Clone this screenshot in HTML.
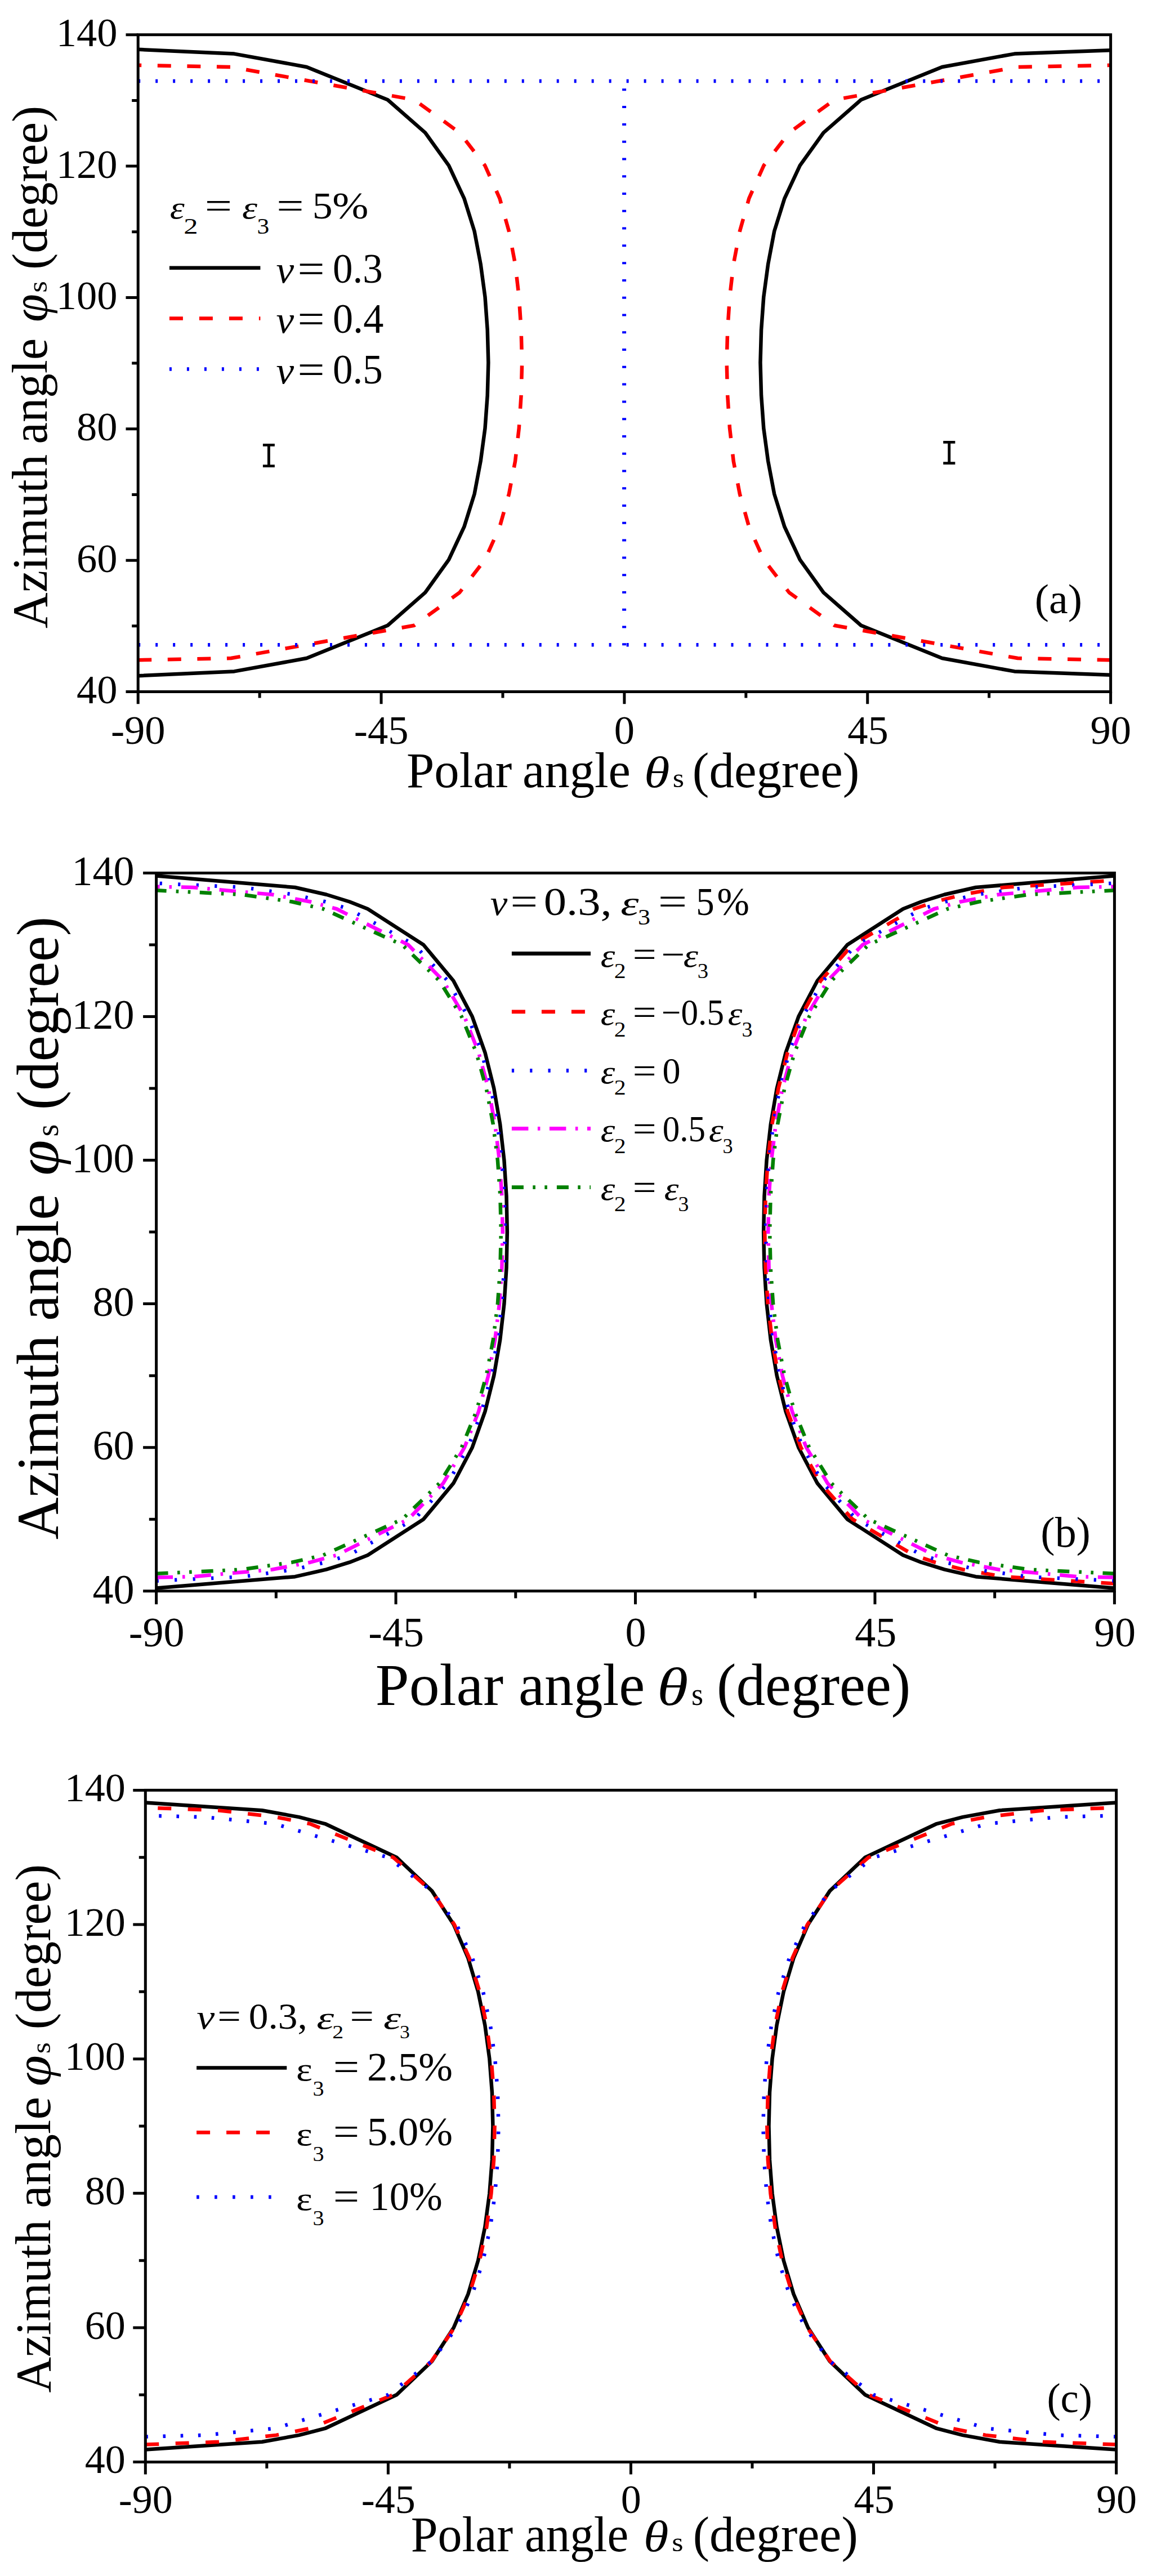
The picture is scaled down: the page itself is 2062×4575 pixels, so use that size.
<!DOCTYPE html><html><head><meta charset="utf-8"><title>figure</title><style>html,body{margin:0;padding:0;background:#fff}svg{display:block}text{font-family:"Liberation Serif",serif;fill:#000;font-kerning:none}.i{font-style:italic}.m{font-family:"Liberation Mono",monospace}</style></head><body>
<svg width="2062" height="4575" viewBox="0 0 2062 4575"><rect width="2062" height="4575" fill="#fff"/>
<g id="pa">
<path d="M245.2 1200.21L416.02 1192.4L544.62 1169.06L688.57 1110.72L755.17 1052.38L797.01 994.04L824.36 935.7L842.59 877.36L853.63 819.02L861.5 760.68L865.72 702.34L867.35 644L865.72 585.66L861.5 527.32L853.63 468.98L842.59 410.64L824.36 352.3L797.01 293.96L755.17 235.62L688.57 177.28L544.62 118.94L416.02 95.6L245.2 87.79" fill="none" stroke="#000" stroke-width="6.5" stroke-linejoin="round"/>
<path d="M1972.6 1198.7L1801.78 1192.4L1673.18 1169.06L1529.23 1110.72L1462.63 1052.38L1420.79 994.04L1393.44 935.7L1375.21 877.36L1364.17 819.02L1356.3 760.68L1352.08 702.34L1350.45 644L1352.08 585.66L1356.3 527.32L1364.17 468.98L1375.21 410.64L1393.44 352.3L1420.79 293.96L1462.63 235.62L1529.23 177.28L1673.18 118.94L1801.78 95.6L1972.6 89.3" fill="none" stroke="#000" stroke-width="6.5" stroke-linejoin="round"/>
<path d="M245.2 1172.21L410.26 1169.06L735.97 1110.72L816.2 1052.38L861.31 994.04L887.5 935.7L903.92 877.36L915.05 819.02L921.76 760.68L925.6 702.34L927.14 644L925.6 585.66L921.76 527.32L915.05 468.98L903.92 410.64L887.5 352.3L861.31 293.96L816.2 235.62L735.97 177.28L410.26 118.94L245.2 115.79" fill="none" stroke="#ff0000" stroke-width="6.5" stroke-linejoin="round" stroke-dasharray="24.000 28.586"/>
<path d="M1972.6 1172.21L1807.54 1169.06L1481.83 1110.72L1401.6 1052.38L1356.49 994.04L1330.3 935.7L1313.88 877.36L1302.75 819.02L1296.03 760.68L1292.2 702.34L1290.66 644L1292.2 585.66L1296.03 527.32L1302.75 468.98L1313.88 410.64L1330.3 352.3L1356.49 293.96L1401.6 235.62L1481.83 177.28L1807.54 118.94L1972.6 115.79" fill="none" stroke="#ff0000" stroke-width="6.5" stroke-linejoin="round" stroke-dasharray="24.000 28.586"/>
<path d="M245.2 143.9H1972.6M245.2 1145.3H1972.6" stroke="#0000ff" stroke-width="6.5" stroke-dasharray="4 26.98" fill="none"/>
<path d="M1108.6 1146.3V143.9" stroke="#0000ff" stroke-width="7" stroke-dasharray="4 26.78" fill="none"/>
<rect x="245.2" y="61.7" width="1727.4" height="1166.8" fill="none" stroke="#000" stroke-width="5"/>
<path d="M245.2 1228.5h-21.7M245.2 1111.82h-11M245.2 995.14h-21.7M245.2 878.46h-11M245.2 761.78h-21.7M245.2 645.1h-11M245.2 528.42h-21.7M245.2 411.74h-11M245.2 295.06h-21.7M245.2 178.38h-11M245.2 61.7h-21.7M245.2 1228.5v21.7M461.12 1228.5v11M677.05 1228.5v21.7M892.97 1228.5v11M1108.9 1228.5v21.7M1324.83 1228.5v11M1540.75 1228.5v21.7M1756.67 1228.5v11M1972.6 1228.5v21.7" fill="none" stroke="#000" stroke-width="5"/>
<text transform="translate(135.96 1249.1)" font-size="72.5">40</text>
<text transform="translate(135.96 1015.74)" font-size="72.5">60</text>
<text transform="translate(135.96 782.38)" font-size="72.5">80</text>
<text transform="translate(99.71 549.02)" font-size="72.5">100</text>
<text transform="translate(99.71 315.66)" font-size="72.5">120</text>
<text transform="translate(99.71 82.3)" font-size="72.5">140</text>
<text transform="translate(196.91 1321.4)" font-size="72.5">-90</text>
<text transform="translate(628.8 1321.4)" font-size="72.5">-45</text>
<text transform="translate(1090.77 1321.4)" font-size="72.5">0</text>
<text transform="translate(1505.21 1321.4)" font-size="72.5">45</text>
<text transform="translate(1936.56 1321.4)" font-size="72.5">90</text>
<text transform="translate(82.6 1116.06) rotate(-90) scale(1.0031 1)" font-size="88">Azimuth</text>
<text transform="translate(82.6 788.55) rotate(-90) scale(0.9858 1)" font-size="88">angle</text>
<text transform="translate(82.6 571.89) rotate(-90) scale(1.0262 1)" font-size="88" class="i">φ</text>
<text transform="translate(82.6 519.77) rotate(-90) scale(1.1017 1)" font-size="48">s</text>
<text transform="translate(82.6 478.74) rotate(-90) scale(0.9928 1)" font-size="88">(degree)</text>
<text transform="translate(722.05 1398.4) scale(1.0074 1)" font-size="88">Polar</text>
<text transform="translate(928.08 1398.4) scale(1.0069 1)" font-size="88">angle</text>
<text transform="translate(1143.88 1398.4) scale(1.1694 1)" font-size="79.2" class="i">θ</text>
<text transform="translate(1194.76 1398.4) scale(1.0884 1)" font-size="48">s</text>
<text transform="translate(1229.79 1398.4) scale(1.0121 1)" font-size="88">(degree)</text>
<text transform="translate(301.68 388) scale(1.1377 1)" font-size="57.95" class="i">ε</text>
<text transform="translate(326.37 415) scale(1.2660 1)" font-size="40">2</text>
<text transform="translate(363.63 388) scale(1.2798 1)" font-size="67">=</text>
<text transform="translate(429.93 388) scale(1.1841 1)" font-size="57.95" class="i">ε</text>
<text transform="translate(456.51 415.3) scale(1.0894 1)" font-size="40">3</text>
<text transform="translate(491.33 388) scale(1.2798 1)" font-size="67">=</text>
<text transform="translate(554.83 388) scale(1.0708 1)" font-size="67">5</text>
<text transform="translate(590.17 388) scale(1.1497 1)" font-size="67">%</text>
<path d="M300.9 475.8H462.4" stroke="#000" stroke-width="6.5"/>
<text transform="translate(490.42 501.6) scale(1.0483 1)" font-size="68.08" class="i">ν</text>
<text transform="translate(528.46 501.6) scale(1.1500 1)" font-size="74">=</text>
<text transform="translate(591 501.6) scale(0.9598 1)" font-size="74">0.3</text>
<path d="M300.9 565.6H462.4" stroke="#ff0000" stroke-width="6.5" stroke-dasharray="24 29"/>
<text transform="translate(490.42 591.1) scale(1.0483 1)" font-size="68.08" class="i">ν</text>
<text transform="translate(528.46 591.1) scale(1.1500 1)" font-size="74">=</text>
<text transform="translate(590.95 591.1) scale(0.9771 1)" font-size="74">0.4</text>
<path d="M300.9 655.4H462.4" stroke="#0000ff" stroke-width="6.5" stroke-dasharray="4 27"/>
<text transform="translate(490.42 680.6) scale(1.0483 1)" font-size="68.08" class="i">ν</text>
<text transform="translate(528.46 680.6) scale(1.1500 1)" font-size="74">=</text>
<text transform="translate(591 680.6) scale(0.9598 1)" font-size="74">0.5</text>
<text transform="translate(1837.87 1088.6) scale(1.0111 1)" font-size="75">(a)</text>
<text transform="translate(461.85 830) scale(0.8191 1)" font-size="63.8" class="m">I</text>
<text transform="translate(1670 824.6) scale(0.8269 1)" font-size="63.8" class="m">I</text>
</g>
<g id="pb">
<path d="M277.6 2820.6L523.89 2800.2L579.7 2787.44L620.78 2774.69L653.12 2761.94L752.14 2698.18L805.24 2634.42L838.75 2570.66L861.45 2506.9L877.26 2443.14L888.2 2379.38L895.4 2315.62L899.5 2251.86L900.84 2188.1L899.5 2124.34L895.4 2060.58L888.2 1996.82L877.26 1933.06L861.45 1869.3L838.75 1805.54L805.24 1741.78L752.14 1678.02L653.12 1614.26L620.78 1601.51L579.7 1588.76L523.89 1576L277.6 1555.6" fill="none" stroke="#000" stroke-width="6.5" stroke-linejoin="round"/>
<path d="M1979.4 2820.6L1733.11 2800.2L1677.3 2787.44L1636.22 2774.69L1603.88 2761.94L1504.86 2698.18L1451.76 2634.42L1418.25 2570.66L1395.55 2506.9L1379.74 2443.14L1368.8 2379.38L1361.6 2315.62L1357.5 2251.86L1356.16 2188.1L1357.5 2124.34L1361.6 2060.58L1368.8 1996.82L1379.74 1933.06L1395.55 1869.3L1418.25 1805.54L1451.76 1741.78L1504.86 1678.02L1603.88 1614.26L1636.22 1601.51L1677.3 1588.76L1733.11 1576L1979.4 1555.6" fill="none" stroke="#000" stroke-width="6.5" stroke-linejoin="round"/>
<path d="M1979.4 2812.57L1782.41 2800.2L1709.99 2787.44L1660.74 2774.69L1623.41 2761.94L1514.08 2698.18L1457.56 2634.42L1422.44 2570.66L1398.84 2506.9L1382.5 2443.14L1371.23 2379.38L1363.82 2315.62L1359.61 2251.86L1358.24 2188.1L1359.61 2124.34L1363.82 2060.58L1371.23 1996.82L1382.5 1933.06L1398.84 1869.3L1422.44 1805.54L1457.56 1741.78L1514.08 1678.02L1623.41 1614.26L1660.74 1601.51L1709.99 1588.76L1782.41 1576L1979.4 1563.63" fill="none" stroke="#ff0000" stroke-width="6.5" stroke-linejoin="round" stroke-dasharray="24.000 29.406"/>
<path d="M277.6 2807.59L432.22 2800.2L522.11 2787.44L578.18 2774.69L619.36 2761.94L736.09 2698.18L794.96 2634.42L831.2 2570.66L855.41 2506.9L872.13 2443.14L883.63 2379.38L891.18 2315.62L895.47 2251.86L896.87 2188.1L895.47 2124.34L891.18 2060.58L883.63 1996.82L872.13 1933.06L855.41 1869.3L831.2 1805.54L794.96 1741.78L736.09 1678.02L619.36 1614.26L578.18 1601.51L522.11 1588.76L432.22 1576L277.6 1568.61" fill="none" stroke="#0000ff" stroke-width="6.5" stroke-linejoin="round" stroke-dasharray="4.200 28.339"/>
<path d="M1979.4 2807.59L1824.78 2800.2L1734.89 2787.44L1678.82 2774.69L1637.64 2761.94L1520.91 2698.18L1462.04 2634.42L1425.8 2570.66L1401.59 2506.9L1384.87 2443.14L1373.37 2379.38L1365.82 2315.62L1361.53 2251.86L1360.13 2188.1L1361.53 2124.34L1365.82 2060.58L1373.37 1996.82L1384.87 1933.06L1401.59 1869.3L1425.8 1805.54L1462.04 1741.78L1520.91 1678.02L1637.64 1614.26L1678.82 1601.51L1734.89 1588.76L1824.78 1576L1979.4 1568.61" fill="none" stroke="#0000ff" stroke-width="6.5" stroke-linejoin="round" stroke-dasharray="4.200 28.339"/>
<path d="M277.6 2801.47L342.51 2800.2L483.57 2787.44L551.07 2774.69L597.99 2761.94L725.04 2698.18L787.14 2634.42L824.94 2570.66L850.05 2506.9L867.32 2443.14L879.18 2379.38L886.95 2315.62L891.37 2251.86L892.8 2188.1L891.37 2124.34L886.95 2060.58L879.18 1996.82L867.32 1933.06L850.05 1869.3L824.94 1805.54L787.14 1741.78L725.04 1678.02L597.99 1614.26L551.07 1601.51L483.57 1588.76L342.51 1576L277.6 1574.73" fill="none" stroke="#ff00ff" stroke-width="6.5" stroke-linejoin="round" stroke-dasharray="29.500 16.917 4.500 16.917"/>
<path d="M1979.4 2801.47L1914.49 2800.2L1773.43 2787.44L1705.93 2774.69L1659.01 2761.94L1531.96 2698.18L1469.86 2634.42L1432.06 2570.66L1406.95 2506.9L1389.68 2443.14L1377.82 2379.38L1370.05 2315.62L1365.63 2251.86L1364.2 2188.1L1365.63 2124.34L1370.05 2060.58L1377.82 1996.82L1389.68 1933.06L1406.95 1869.3L1432.06 1805.54L1469.86 1741.78L1531.96 1678.02L1659.01 1614.26L1705.93 1601.51L1773.43 1588.76L1914.49 1576L1979.4 1574.73" fill="none" stroke="#ff00ff" stroke-width="6.5" stroke-linejoin="round" stroke-dasharray="29.500 16.917 4.500 16.917"/>
<path d="M277.6 2794.84L429.82 2787.44L518.56 2774.69L574.05 2761.94L714.49 2698.18L780.32 2634.42L819.81 2570.66L845.84 2506.9L863.67 2443.14L875.88 2379.38L883.87 2315.62L888.4 2251.86L889.87 2188.1L888.4 2124.34L883.87 2060.58L875.88 1996.82L863.67 1933.06L845.84 1869.3L819.81 1805.54L780.32 1741.78L714.49 1678.02L574.05 1614.26L518.56 1601.51L429.82 1588.76L277.6 1581.36" fill="none" stroke="#008000" stroke-width="6.5" stroke-linejoin="round" stroke-dasharray="21.000 16.475 4.600 16.475 4.600 17.075"/>
<path d="M1979.4 2794.84L1827.18 2787.44L1738.44 2774.69L1682.95 2761.94L1542.51 2698.18L1476.68 2634.42L1437.19 2570.66L1411.16 2506.9L1393.33 2443.14L1381.12 2379.38L1373.13 2315.62L1368.6 2251.86L1367.13 2188.1L1368.6 2124.34L1373.13 2060.58L1381.12 1996.82L1393.33 1933.06L1411.16 1869.3L1437.19 1805.54L1476.68 1741.78L1542.51 1678.02L1682.95 1614.26L1738.44 1601.51L1827.18 1588.76L1979.4 1581.36" fill="none" stroke="#008000" stroke-width="6.5" stroke-linejoin="round" stroke-dasharray="21.000 16.475 4.600 16.475 4.600 17.075"/>
<rect x="277.6" y="1550.5" width="1701.8" height="1275.2" fill="none" stroke="#000" stroke-width="5"/>
<path d="M277.6 2825.7h-23.5M277.6 2698.18h-12.8M277.6 2570.66h-23.5M277.6 2443.14h-12.8M277.6 2315.62h-23.5M277.6 2188.1h-12.8M277.6 2060.58h-23.5M277.6 1933.06h-12.8M277.6 1805.54h-23.5M277.6 1678.02h-12.8M277.6 1550.5h-23.5M277.6 2825.7v23.5M490.33 2825.7v12.8M703.05 2825.7v23.5M915.78 2825.7v12.8M1128.5 2825.7v23.5M1341.23 2825.7v12.8M1553.95 2825.7v23.5M1766.68 2825.7v12.8M1979.4 2825.7v23.5" fill="none" stroke="#000" stroke-width="5"/>
<text transform="translate(164.52 2847.5)" font-size="74">40</text>
<text transform="translate(164.52 2592.46)" font-size="74">60</text>
<text transform="translate(164.52 2337.42)" font-size="74">80</text>
<text transform="translate(127.52 2082.38)" font-size="74">100</text>
<text transform="translate(127.52 1827.34)" font-size="74">120</text>
<text transform="translate(127.52 1572.3)" font-size="74">140</text>
<text transform="translate(228.81 2924)" font-size="74">-90</text>
<text transform="translate(654.3 2924)" font-size="74">-45</text>
<text transform="translate(1110.5 2924)" font-size="74">0</text>
<text transform="translate(1518.17 2924)" font-size="74">45</text>
<text transform="translate(1943.12 2924)" font-size="74">90</text>
<text transform="translate(102.8 2734.31) rotate(-90) scale(0.9881 1)" font-size="105">Azimuth</text>
<text transform="translate(102.8 2345.96) rotate(-90) scale(0.9916 1)" font-size="105">angle</text>
<text transform="translate(102.8 2088.03) rotate(-90) scale(1.0962 1)" font-size="105" class="i">φ</text>
<text transform="translate(102.8 2018.59) rotate(-90) scale(0.9784 1)" font-size="57">s</text>
<text transform="translate(102.8 1971.13) rotate(-90) scale(0.9816 1)" font-size="105">(degree)</text>
<text transform="translate(666.8 3028) scale(1.0262 1)" font-size="105">Polar</text>
<text transform="translate(920.96 3028) scale(0.9866 1)" font-size="105">angle</text>
<text transform="translate(1166.9 3028) scale(1.1922 1)" font-size="94.5" class="i">θ</text>
<text transform="translate(1227.98 3028) scale(0.9503 1)" font-size="57">s</text>
<text transform="translate(1272.96 3028) scale(0.9848 1)" font-size="105">(degree)</text>
<text transform="translate(870.86 1625) scale(1.0685 1)" font-size="64.4" class="i">ν</text>
<text transform="translate(906.41 1625) scale(1.2311 1)" font-size="70">=</text>
<text transform="translate(965.83 1625) scale(1.1509 1)" font-size="70">0.3,</text>
<text transform="translate(1102.24 1625) scale(1.3512 1)" font-size="60.55" class="i">ε</text>
<text transform="translate(1133.09 1641.5) scale(1.1015 1)" font-size="40">3</text>
<text transform="translate(1168.64 1625) scale(1.3078 1)" font-size="70">=</text>
<text transform="translate(1236.14 1625) scale(0.9256 1)" font-size="70">5</text>
<text transform="translate(1273.44 1625) scale(0.9846 1)" font-size="70">%</text>
<path d="M908.9 1693.5H1049" stroke="#000" stroke-width="6.8"/>
<text transform="translate(1066.71 1716.5) scale(1.1026 1)" font-size="58.82" class="i">ε</text>
<text transform="translate(1090.76 1737) scale(1.1028 1)" font-size="38">2</text>
<text transform="translate(1123.8 1716.5) scale(1.1439 1)" font-size="65">=</text>
<text transform="translate(1174.39 1716.5) scale(1.1472 1)" font-size="65">−</text>
<text transform="translate(1213.77 1716.5) scale(1.1301 1)" font-size="58.82" class="i">ε</text>
<text transform="translate(1238.65 1737) scale(1.0193 1)" font-size="38">3</text>
<path d="M908.9 1796.8H1049" stroke="#ff0000" stroke-width="6.8" stroke-dasharray="24 29"/>
<text transform="translate(1066.71 1820) scale(1.1026 1)" font-size="58.82" class="i">ε</text>
<text transform="translate(1090.76 1840.5) scale(1.1028 1)" font-size="38">2</text>
<text transform="translate(1123.8 1820) scale(1.1439 1)" font-size="65">=</text>
<text transform="translate(1175.05 1820) scale(0.9409 1)" font-size="65">−0.5</text>
<text transform="translate(1292.81 1820) scale(1.1026 1)" font-size="58.82" class="i">ε</text>
<text transform="translate(1317.38 1840.5)" font-size="38">3</text>
<path d="M908.9 1901.3H1049" stroke="#0000ff" stroke-width="6.8" stroke-dasharray="4.2 28.1"/>
<text transform="translate(1066.71 1923.5) scale(1.1026 1)" font-size="58.82" class="i">ε</text>
<text transform="translate(1090.76 1944) scale(1.1028 1)" font-size="38">2</text>
<text transform="translate(1123.8 1923.5) scale(1.1439 1)" font-size="65">=</text>
<text transform="translate(1176.56 1923.5) scale(0.9873 1)" font-size="65">0</text>
<path d="M908.9 2004.4H1049" stroke="#ff00ff" stroke-width="6.8" stroke-dasharray="29.5 16.5 4.5 16.5"/>
<text transform="translate(1066.71 2027) scale(1.1026 1)" font-size="58.82" class="i">ε</text>
<text transform="translate(1090.76 2047.5) scale(1.1028 1)" font-size="38">2</text>
<text transform="translate(1123.8 2027) scale(1.1439 1)" font-size="65">=</text>
<text transform="translate(1176.68 2027) scale(0.9379 1)" font-size="65">0.5</text>
<text transform="translate(1259 2027) scale(1.1072 1)" font-size="58.82" class="i">ε</text>
<text transform="translate(1283.46 2047.5) scale(0.9556 1)" font-size="38">3</text>
<path d="M908.9 2108.6H1049" stroke="#008000" stroke-width="6.8" stroke-dasharray="21 16.4 4.6 16.4 4.6 17"/>
<text transform="translate(1066.71 2130.5) scale(1.1026 1)" font-size="58.82" class="i">ε</text>
<text transform="translate(1090.76 2151) scale(1.1028 1)" font-size="38">2</text>
<text transform="translate(1123.8 2130.5) scale(1.1439 1)" font-size="65">=</text>
<text transform="translate(1179.7 2130.5) scale(1.1072 1)" font-size="58.82" class="i">ε</text>
<text transform="translate(1204.39 2151) scale(0.9938 1)" font-size="38">3</text>
<text transform="translate(1848.37 2747.2) scale(1.0049 1)" font-size="75.5">(b)</text>
</g>
<g id="pc">
<path d="M258.3 4350.53L465.49 4336.8L531.11 4324.87L577.31 4312.94L704.23 4253.28L767.16 4193.62L805.73 4133.96L831.44 4074.3L849.18 4014.64L861.38 3954.98L869.38 3895.32L873.93 3835.66L875.41 3776L873.93 3716.34L869.38 3656.68L861.38 3597.02L849.18 3537.36L831.44 3477.7L805.73 3418.04L767.16 3358.38L704.23 3298.72L577.31 3239.06L531.11 3227.13L465.49 3215.2L258.3 3201.47" fill="none" stroke="#000" stroke-width="6.5" stroke-linejoin="round"/>
<path d="M1982.6 4350.53L1775.41 4336.8L1709.79 4324.87L1663.59 4312.94L1536.67 4253.28L1473.74 4193.62L1435.17 4133.96L1409.46 4074.3L1391.72 4014.64L1379.52 3954.98L1371.52 3895.32L1366.97 3835.66L1365.49 3776L1366.97 3716.34L1371.52 3656.68L1379.52 3597.02L1391.72 3537.36L1409.46 3477.7L1435.17 3418.04L1473.74 3358.38L1536.67 3298.72L1663.59 3239.06L1709.79 3227.13L1775.41 3215.2L1982.6 3201.47" fill="none" stroke="#000" stroke-width="6.5" stroke-linejoin="round"/>
<path d="M258.3 4341.58L387.75 4336.8L490.32 4324.87L550.53 4312.94L698.34 4253.28L766.38 4193.62L806.95 4133.96L833.61 4074.3L851.84 4014.64L864.31 3954.98L872.45 3895.32L877.07 3835.66L878.57 3776L877.07 3716.34L872.45 3656.68L864.31 3597.02L851.84 3537.36L833.61 3477.7L806.95 3418.04L766.38 3358.38L698.34 3298.72L550.53 3239.06L490.32 3227.13L387.75 3215.2L258.3 3210.42" fill="none" stroke="#ff0000" stroke-width="6.5" stroke-linejoin="round" stroke-dasharray="24.000 29.424"/>
<path d="M1982.6 4341.58L1853.15 4336.8L1750.58 4324.87L1690.37 4312.94L1542.56 4253.28L1474.52 4193.62L1433.95 4133.96L1407.29 4074.3L1389.06 4014.64L1376.59 3954.98L1368.45 3895.32L1363.83 3835.66L1362.33 3776L1363.83 3716.34L1368.45 3656.68L1376.59 3597.02L1389.06 3537.36L1407.29 3477.7L1433.95 3418.04L1474.52 3358.38L1542.56 3298.72L1690.37 3239.06L1750.58 3227.13L1853.15 3215.2L1982.6 3210.42" fill="none" stroke="#ff0000" stroke-width="6.5" stroke-linejoin="round" stroke-dasharray="24.000 29.424"/>
<path d="M258.3 4327.62L362.51 4324.87L487.89 4312.94L688.97 4253.28L766.85 4193.62L810.9 4133.96L839.09 4074.3L858.05 4014.64L870.9 3954.98L879.23 3895.32L883.94 3835.66L885.47 3776L883.94 3716.34L879.23 3656.68L870.9 3597.02L858.05 3537.36L839.09 3477.7L810.9 3418.04L766.85 3358.38L688.97 3298.72L487.89 3239.06L362.51 3227.13L258.3 3224.38" fill="none" stroke="#0000ff" stroke-width="6.5" stroke-linejoin="round" stroke-dasharray="4.600 26.603"/>
<path d="M1982.6 4327.62L1878.39 4324.87L1753.01 4312.94L1551.93 4253.28L1474.05 4193.62L1430 4133.96L1401.81 4074.3L1382.85 4014.64L1370 3954.98L1361.67 3895.32L1356.96 3835.66L1355.43 3776L1356.96 3716.34L1361.67 3656.68L1370 3597.02L1382.85 3537.36L1401.81 3477.7L1430 3418.04L1474.05 3358.38L1551.93 3298.72L1753.01 3239.06L1878.39 3227.13L1982.6 3224.38" fill="none" stroke="#0000ff" stroke-width="6.5" stroke-linejoin="round" stroke-dasharray="4.600 26.603"/>
<rect x="258.3" y="3179.4" width="1724.3" height="1193.2" fill="none" stroke="#000" stroke-width="5"/>
<path d="M258.3 4372.6h-22M258.3 4253.28h-11.5M258.3 4133.96h-22M258.3 4014.64h-11.5M258.3 3895.32h-22M258.3 3776h-11.5M258.3 3656.68h-22M258.3 3537.36h-11.5M258.3 3418.04h-22M258.3 3298.72h-11.5M258.3 3179.4h-22M258.3 4372.6v22M473.84 4372.6v11.5M689.38 4372.6v22M904.91 4372.6v11.5M1120.45 4372.6v22M1335.99 4372.6v11.5M1551.52 4372.6v22M1767.06 4372.6v11.5M1982.6 4372.6v22" fill="none" stroke="#000" stroke-width="5"/>
<text transform="translate(150.64 4392.4)" font-size="72">40</text>
<text transform="translate(150.64 4153.76)" font-size="72">60</text>
<text transform="translate(150.64 3915.12)" font-size="72">80</text>
<text transform="translate(114.64 3676.48)" font-size="72">100</text>
<text transform="translate(114.64 3437.84)" font-size="72">120</text>
<text transform="translate(114.64 3199.2)" font-size="72">140</text>
<text transform="translate(210.65 4463.2)" font-size="72">-90</text>
<text transform="translate(641.76 4463.2)" font-size="72">-45</text>
<text transform="translate(1102.75 4463.2)" font-size="72">0</text>
<text transform="translate(1516.53 4463.2)" font-size="72">45</text>
<text transform="translate(1947.11 4463.2)" font-size="72">90</text>
<text transform="translate(89.4 4249.56) rotate(-90) scale(0.9976 1)" font-size="88">Azimuth</text>
<text transform="translate(89.4 3921.81) rotate(-90) scale(1.0378 1)" font-size="88">angle</text>
<text transform="translate(89.4 3705.38) rotate(-90) scale(1.1384 1)" font-size="88" class="i">φ</text>
<text transform="translate(89.4 3647.32) rotate(-90) scale(1.0750 1)" font-size="48">s</text>
<text transform="translate(89.4 3604.37) rotate(-90) scale(1.0012 1)" font-size="88">(degree)</text>
<text transform="translate(729.73 4531) scale(0.9762 1)" font-size="88">Polar</text>
<text transform="translate(932.01 4531) scale(0.9663 1)" font-size="88">angle</text>
<text transform="translate(1142.98 4531) scale(1.1422 1)" font-size="79.2" class="i">θ</text>
<text transform="translate(1193.36 4531) scale(1.0884 1)" font-size="48">s</text>
<text transform="translate(1230.63 4531)" font-size="88">(degree)</text>
<text transform="translate(349.31 3603.2) scale(1.1868 1)" font-size="60.72" class="i">ν</text>
<text transform="translate(386.32 3603.2) scale(1.1201 1)" font-size="66">=</text>
<text transform="translate(441.76 3603.2) scale(1.0517 1)" font-size="66">0.3,</text>
<text transform="translate(562.31 3603.2) scale(1.3765 1)" font-size="57.09" class="i">ε</text>
<text transform="translate(590.25 3619.5) scale(1.2095 1)" font-size="33">2</text>
<text transform="translate(621.54 3603.2) scale(1.1429 1)" font-size="66">=</text>
<text transform="translate(681.11 3603.2) scale(1.3812 1)" font-size="57.09" class="i">ε</text>
<text transform="translate(710.09 3619.8) scale(1.0857 1)" font-size="33">3</text>
<path d="M349.1 3672.5H509.3" stroke="#000" stroke-width="6.5"/>
<text transform="translate(525.95 3694.8) scale(1.1770 1)" font-size="58.32">ε</text>
<text transform="translate(555.38 3722) scale(1.0575 1)" font-size="38">3</text>
<text transform="translate(591.8 3694.8) scale(1.1432 1)" font-size="72">=</text>
<text transform="translate(652.1 3694.8) scale(1.0128 1)" font-size="72">2.5%</text>
<path d="M349.1 3787.2H507.5" stroke="#ff0000" stroke-width="6.5" stroke-dasharray="24 29"/>
<text transform="translate(525.95 3810.3) scale(1.1770 1)" font-size="58.32">ε</text>
<text transform="translate(555.38 3837.5) scale(1.0575 1)" font-size="38">3</text>
<text transform="translate(591.8 3810.3) scale(1.1432 1)" font-size="72">=</text>
<text transform="translate(651.96 3810.3) scale(1.0137 1)" font-size="72">5.0%</text>
<path d="M349.1 3902H507.5" stroke="#0000ff" stroke-width="6.5" stroke-dasharray="4.6 27.4"/>
<text transform="translate(525.95 3925.1) scale(1.1770 1)" font-size="58.32">ε</text>
<text transform="translate(555.38 3952.3) scale(1.0575 1)" font-size="38">3</text>
<text transform="translate(591.8 3925.1) scale(1.1432 1)" font-size="72">=</text>
<text transform="translate(656.6 3925.1) scale(0.9790 1)" font-size="72">10%</text>
<text transform="translate(1859.41 4283.8) scale(0.9668 1)" font-size="75">(c)</text>
</g>
</svg></body></html>
